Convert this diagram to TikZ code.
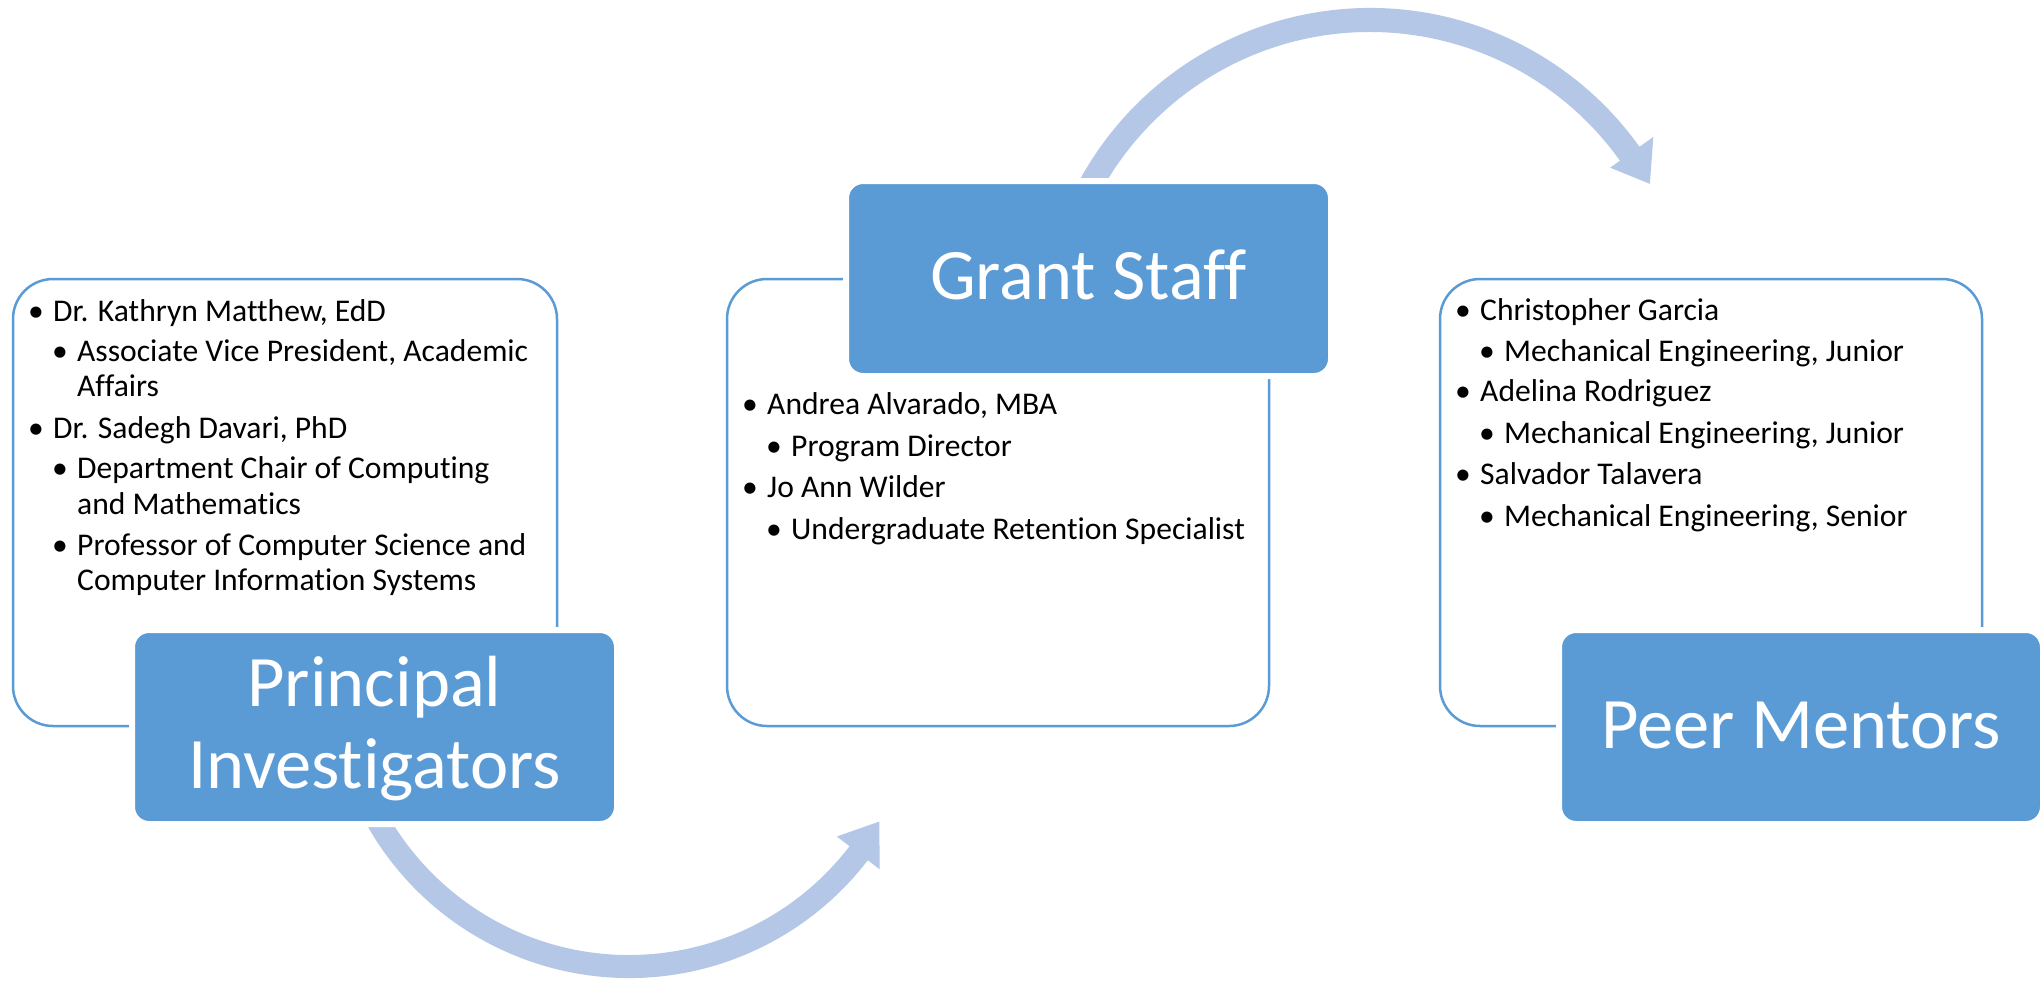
\documentclass[tikz,border=0pt]{standalone}
\usepackage{fontspec}
\setmainfont[Ligatures=NoCommon]{Carlito}
\definecolor{accent}{HTML}{5B9BD5}
\definecolor{arrowc}{HTML}{B4C7E7}
\begin{document}
\begin{tikzpicture}[x=1pt,y=1pt,
  whitebox/.style={draw=accent, line width=2.5, rounded corners=40, fill=white, inner sep=0},
  bluebox/.style={fill=accent, draw=white, line width=6, rounded corners=17, inner sep=0},
  big/.style={text=white, font=\fontsize{72.5}{82}\selectfont, inner sep=0, anchor=base},
  body/.style={font=\fontsize{31.6}{35.5}\selectfont, inner sep=0, anchor=base west},
  bul/.style={font=\fontsize{31.6}{35.5}\selectfont, inner sep=0, anchor=base},
  arrowband/.style={fill=arrowc}]
\useasboundingbox (0,0) rectangle (2041,-980);

% content boxes
\node[whitebox, minimum width=544, minimum height=447] (piw) at (285,-502.5) {};
\node[whitebox, minimum width=542, minimum height=447] (gsw) at (998,-502.5) {};
\node[whitebox, minimum width=542, minimum height=447] (pmw) at (1711,-502.5) {};

% curved arrows
\coordinate (c1) at (629,-677);
\coordinate (c2) at (1370,-339);
\fill[arrowband, shift={(c1)}] (207:301) arc[start angle=207, end angle=322.5, radius=301]
  -- (322.5:316) -- (330:289) -- (322.5:262) -- (322.5:278)
  arc[start angle=322.5, end angle=207, radius=278] -- cycle;
\fill[arrowband, shift={(c2)}] (153:331) arc[start angle=153, end angle=35.5, radius=331]
  -- (35.5:348) -- (29:320) -- (35.5:295) -- (35.5:307)
  arc[start angle=35.5, end angle=153, radius=307] -- cycle;

% title boxes
\node[bluebox, minimum width=485, minimum height=194] (pi) at (374.5,-727) {};
\node[bluebox, minimum width=485, minimum height=195] (gs) at (1088.5,-278.5) {};
\node[bluebox, minimum width=484, minimum height=194] (pm) at (1801,-727) {};

\node[big] (pit1) at (374.5,-706) {Principal};
\node[big] (pit2) at (374.5,-788) {Investigators};
\node[big] (gst) at (1088.5,-299) {Grant Staff};
\node[big] (pmt) at (1801,-748) {Peer Mentors};

% left list
\node[bul] (lb1) at (36,-321) {•};
\node[body] (lt1) at (53,-321) {Dr. Kathryn Matthew, EdD};
\node[bul] (lb2) at (60,-361) {•};
\node[body] (lt2) at (77,-361) {Associate Vice President, Academic};
\node[body] (lt2b) at (77,-396) {Affairs};
\node[bul] (lb3) at (36,-438) {•};
\node[body] (lt3) at (53,-438) {Dr. Sadegh Davari, PhD};
\node[bul] (lb4) at (60,-478.5) {•};
\node[body] (lt4) at (77,-478.5) {Department Chair of Computing};
\node[body] (lt4b) at (77,-514) {and Mathematics};
\node[bul] (lb5) at (60,-555.5) {•};
\node[body] (lt5) at (77,-555.5) {Professor of Computer Science and};
\node[body] (lt5b) at (77,-590) {Computer Information Systems};

% middle list
\node[bul] (mb1) at (750,-414) {•};
\node[body] (mt1) at (767,-414) {Andrea Alvarado, MBA};
\node[bul] (mb2) at (774,-456) {•};
\node[body] (mt2) at (791,-456) {Program Director};
\node[bul] (mb3) at (750,-497) {•};
\node[body] (mt3) at (767,-497) {Jo Ann Wilder};
\node[bul] (mb4) at (774,-539) {•};
\node[body] (mt4) at (791,-539) {Undergraduate Retention Specialist};

% right list
\node[bul] (rb1) at (1463,-320) {•};
\node[body] (rt1) at (1480,-320) {Christopher Garcia};
\node[bul] (rb2) at (1487,-361) {•};
\node[body] (rt2) at (1504,-361) {Mechanical Engineering, Junior};
\node[bul] (rb3) at (1463,-401) {•};
\node[body] (rt3) at (1480,-401) {Adelina Rodriguez};
\node[bul] (rb4) at (1487,-443) {•};
\node[body] (rt4) at (1504,-443) {Mechanical Engineering, Junior};
\node[bul] (rb5) at (1463,-484) {•};
\node[body] (rt5) at (1480,-484) {Salvador Talavera};
\node[bul] (rb6) at (1487,-526) {•};
\node[body] (rt6) at (1504,-526) {Mechanical Engineering, Senior};
\end{tikzpicture}
\end{document}
